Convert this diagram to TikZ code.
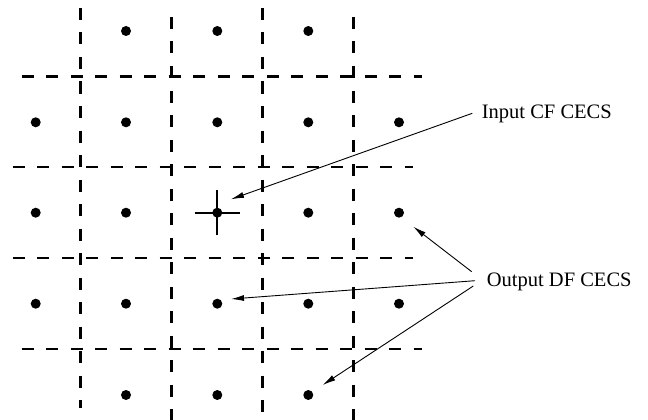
\documentclass[tikz,border=0pt]{standalone}
\usepackage{fontspec}
\setmainfont{Liberation Serif}
\usetikzlibrary{arrows.meta}
\begin{document}
\begin{tikzpicture}[x=1pt,y=-1pt,
  gridline/.style={line width=2.8pt,dash pattern=on 12pt off 12.5pt},
  sample/.style={circle,fill=black,inner sep=0pt,minimum size=10pt},
  pointer/.style={line width=0.9pt,-{Latex[length=13pt,width=6pt]}},
  label/.style={inner sep=0pt,anchor=base west,font=\fontsize{20.5}{24}\selectfont}]
\useasboundingbox (0,0) rectangle (648,420);

% cell boundaries (vertical)
\draw[gridline] (80.5,8) -- (80.5,408);
\draw[gridline] (171.5,17) -- (171.5,420);
\draw[gridline] (262.5,8) -- (262.5,420);
\draw[gridline] (353.5,17) -- (353.5,420);
% cell boundaries (horizontal)
\draw[gridline] (21.7,76.5) -- (421.7,76.5);
\draw[gridline] (12.7,167) -- (413,167);
\draw[gridline] (12.7,258) -- (413,258);
\draw[gridline] (21.7,349) -- (421.7,349);

% sample points
\foreach \c/\x in {2/126,3/217.3,4/308.3}
  \node[sample] (p1\c) at (\x,31) {};
\foreach \r/\y in {2/122.3,3/212.7,4/303.7}
  \foreach \c/\x in {1/35.7,2/126,3/217.3,4/308.3,5/399}
    \node[sample] (p\r\c) at (\x,\y) {};
\foreach \c/\x in {2/126,3/217.3,4/308.3}
  \node[sample] (p5\c) at (\x,395) {};

% cross marking the input point
\draw[line width=2pt] ([xshift=-22.6pt]p33.center) -- ([xshift=22.6pt]p33.center);
\draw[line width=2pt] ([yshift=-22.7pt]p33.center) -- ([yshift=23pt]p33.center);

% labels
\node[label] (inlab) at (481.7,118.3) {Input CF CECS};
\node[label] (outlab) at (486.7,286) {Output DF CECS};

% arrow ends
\coordinate (inA) at (472.3,113.3);
\coordinate (inT) at (231,199.3);
\coordinate (oA1) at (471.7,271.7);
\coordinate (oT1) at (413.3,226.7);
\coordinate (oA2) at (475,280.7);
\coordinate (oT2) at (231,299);
\coordinate (oA3) at (473.3,286);
\coordinate (oT3) at (322.7,385);

\draw[pointer] (inA) -- (inT);
\draw[pointer] (oA1) -- (oT1);
\draw[pointer] (oA2) -- (oT2);
\draw[pointer] (oA3) -- (oT3);
\end{tikzpicture}
\end{document}
